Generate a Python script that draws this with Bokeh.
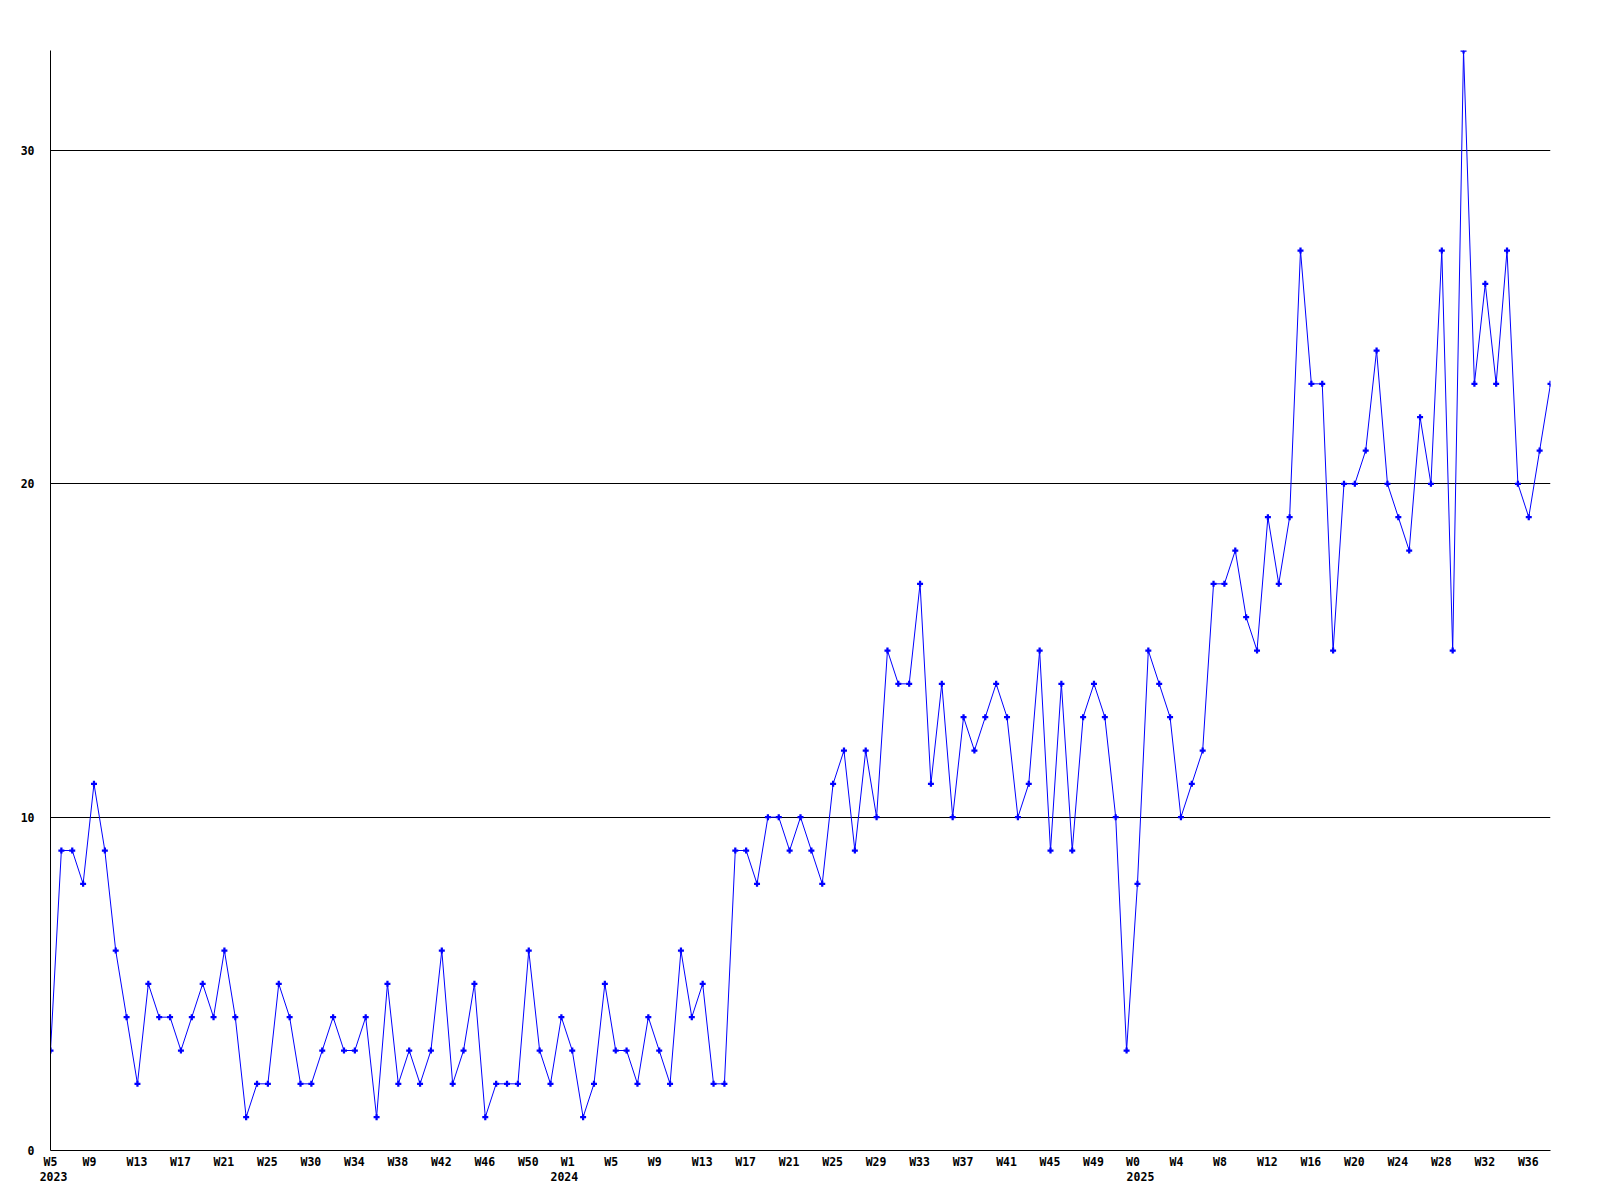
from bokeh.plotting import figure
from bokeh.models import FixedTicker, LinearAxis, Range1d
from bokeh.embed import file_html
from bokeh.resources import INLINE

# ---- data ----
values = [
    3, 9, 9, 8, 11, 9, 6, 4, 2, 5, 4, 4, 3, 4, 5, 4, 6, 4, 1, 2,
    2, 5, 4, 2, 2, 3, 4, 3, 3, 4, 1, 5, 2, 3, 2, 3, 6, 2, 3, 5,
    1, 2, 2, 2, 6, 3, 2, 4, 3, 1, 2, 5, 3, 3, 2, 4, 3, 2, 6, 4,
    5, 2, 2, 9, 9, 8, 10, 10, 9, 10, 9, 8, 11, 12, 9, 12, 10, 15, 14, 14,
    17, 11, 14, 10, 13, 12, 13, 14, 13, 10, 11, 15, 9, 14, 9, 13, 14, 13, 10, 3,
    8, 15, 14, 13, 10, 11, 12, 17, 17, 18, 16, 15, 19, 17, 19, 27, 23, 23, 15, 20,
    20, 21, 24, 20, 19, 18, 22, 20, 27, 15, 33, 23, 26, 23, 27, 20, 19, 21, 23,
]
week_labels = [
    "W5", "W9", "W13", "W17", "W21", "W25", "W30", "W34", "W38", "W42", "W46", "W50",
    "W1", "W5", "W9", "W13", "W17", "W21", "W25", "W29", "W33", "W37", "W41", "W45", "W49",
    "W0", "W4", "W8", "W12", "W16", "W20", "W24", "W28", "W32", "W36",
]
year_labels = ["2023", "2024", "2025"]
year_start_points = [0, 47, 100]
y_ticks = [0, 10, 20, 30]
label_every = 4

# ---- layout ----
W, H = 1584, 1190
BL, BT = 50, 50
BR = W - 1550
BB = H - 1150
n = len(values)
px_per_pt = (W - BL - BR) / (n - 1)

FONT = "DejaVu Sans Mono"
FSIZE = "11.5px"

p = figure(width=W, height=H, output_backend="svg", toolbar_location=None,
           x_range=Range1d(0, n - 1), y_range=Range1d(0, 33),
           min_border_left=BL, min_border_right=BR,
           min_border_top=BT, min_border_bottom=BB,
           x_axis_location=None)
p.outline_line_color = None
p.background_fill_color = "white"
p.border_fill_color = "white"

xs = list(range(n))
p.line(xs, values, line_color="#0000ff", line_width=1)
p.scatter(xs, values, marker="plus", size=6, fill_color="#0000ff", line_color=None)

# y axis
p.yaxis.ticker = FixedTicker(ticks=y_ticks, minor_ticks=[])
p.yaxis.axis_line_color = "black"
p.yaxis.major_tick_out = 0
p.yaxis.major_tick_in = 0
p.yaxis.minor_tick_out = 0
p.yaxis.minor_tick_in = 0
p.yaxis.major_label_standoff = 16
p.yaxis.major_label_text_font = FONT
p.yaxis.major_label_text_font_size = FSIZE
p.yaxis.major_label_text_font_style = "bold"
p.yaxis.major_label_text_color = "black"

p.ygrid.ticker = FixedTicker(ticks=y_ticks[1:])
p.ygrid.grid_line_color = "black"
p.ygrid.grid_line_width = 1
p.xgrid.visible = False

# x axis: week labels (shifted per label length to mimic left-aligned labels)
wk_ticks = []
wk_over = {}
for i, lbl in enumerate(week_labels):
    pos = i * label_every + (4.0 * len(lbl) - 12.5) / px_per_pt
    pos = round(max(pos, 0.0), 4)
    wk_ticks.append(pos)
    wk_over[pos] = lbl

xa = LinearAxis(ticker=FixedTicker(ticks=wk_ticks, minor_ticks=[]),
                major_label_overrides=wk_over)
xa.axis_line_color = "black"
xa.major_tick_out = 0
xa.major_tick_in = 0
xa.minor_tick_out = 0
xa.minor_tick_in = 0
xa.major_label_standoff = 4
xa.major_label_text_font = FONT
xa.major_label_text_font_size = FSIZE
xa.major_label_text_font_style = "bold"
xa.major_label_text_color = "black"
p.add_layout(xa, "below")

yr_ticks = []
yr_over = {}
for idx, lbl in zip(year_start_points, year_labels):
    pos = round(idx + 3.0 / px_per_pt, 4)
    yr_ticks.append(pos)
    yr_over[pos] = lbl

ya2 = LinearAxis(ticker=FixedTicker(ticks=yr_ticks, minor_ticks=[]),
                 major_label_overrides=yr_over)
ya2.axis_line_color = None
ya2.major_tick_out = 0
ya2.major_tick_in = 0
ya2.minor_tick_out = 0
ya2.minor_tick_in = 0
ya2.major_label_standoff = 0
ya2.major_label_text_font = FONT
ya2.major_label_text_font_size = FSIZE
ya2.major_label_text_font_style = "bold"
ya2.major_label_text_color = "black"
p.add_layout(ya2, "below")

open("out.html", "w").write(file_html(p, INLINE))
